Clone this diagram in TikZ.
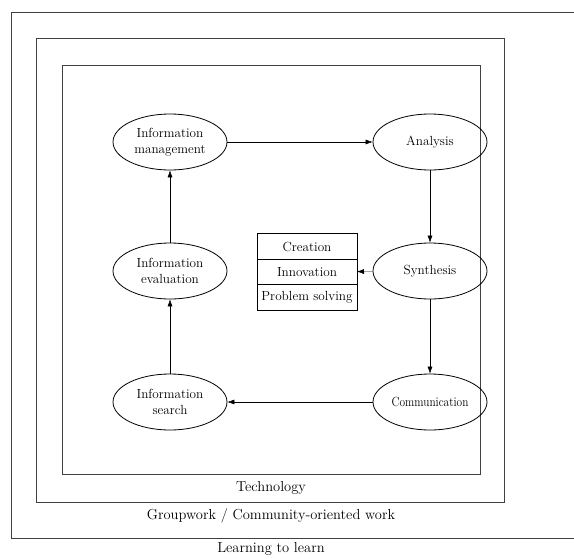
\documentclass[tikz,border=0pt]{standalone}
\usepackage{tikz}
\usetikzlibrary{arrows.meta}
\usetikzlibrary{positioning}
\usetikzlibrary{shapes.geometric}

\begin{document}
\begin{tikzpicture}[x=1pt,y=-1pt,
        font=\fontsize{13.2}{16}\selectfont,
        ->,-{Latex[length=7pt,width=5pt]},
        stageNode/.style = {shape=ellipse,draw=black,line width=0.8pt,minimum width=114pt,minimum height=56pt,inner sep=0pt,align=center},
        outcomeNode/.style = {shape=rectangle,draw=black,line width=0.8pt,minimum width=100pt,minimum height=25.5pt,inner sep=0pt,outer sep=0pt},
        frameBox/.style = {draw=black!75,line width=1pt},
        frameLabel/.style = {font=\fontsize{14.5}{17}\selectfont}
        ]
        \useasboundingbox (0,0) rectangle (574,558);
        % nested frames
        \draw[frameBox,-] (11,12) rectangle (580,538);
        \draw[frameBox,-] (36,38) rectangle (504,502);
        \draw[frameBox,-] (62,65) rectangle (480,474);
        \node[frameLabel] (technology) at (271,488) {Technology};
        \node[frameLabel] (groupwork) at (271,516) {Groupwork / Community-oriented work};
        \node[frameLabel] (learning) at (271,549) {Learning to learn};
        % stages of the cycle
        \node[stageNode] (management) at (170,142) {Information\\management};
        \node[stageNode] (analysis) at (430,142) {Analysis};
        \node[stageNode] (synthesis) at (430,271) {Synthesis};
        \node[stageNode] (communication) at (430,402) {\scalebox{0.86}[1]{Communication}};
        \node[stageNode] (search) at (170,402) {Information\\search};
        \node[stageNode] (evaluation) at (170,271) {Information\\evaluation};
        % outcomes
        \node[outcomeNode] (innovation) at (307,272) {Innovation};
        \node[outcomeNode,above=0pt of innovation] (creation) {Creation};
        \node[outcomeNode,below=0pt of innovation] (problem) {Problem solving};
        \draw (management) -- (analysis);
        \draw (analysis) -- (synthesis);
        \draw (synthesis) -- (innovation);
        \draw (synthesis) -- (communication);
        \draw (communication) -- (search);
        \draw (search) -- (evaluation);
        \draw (evaluation) -- (management);
    \end{tikzpicture}
\end{document}
